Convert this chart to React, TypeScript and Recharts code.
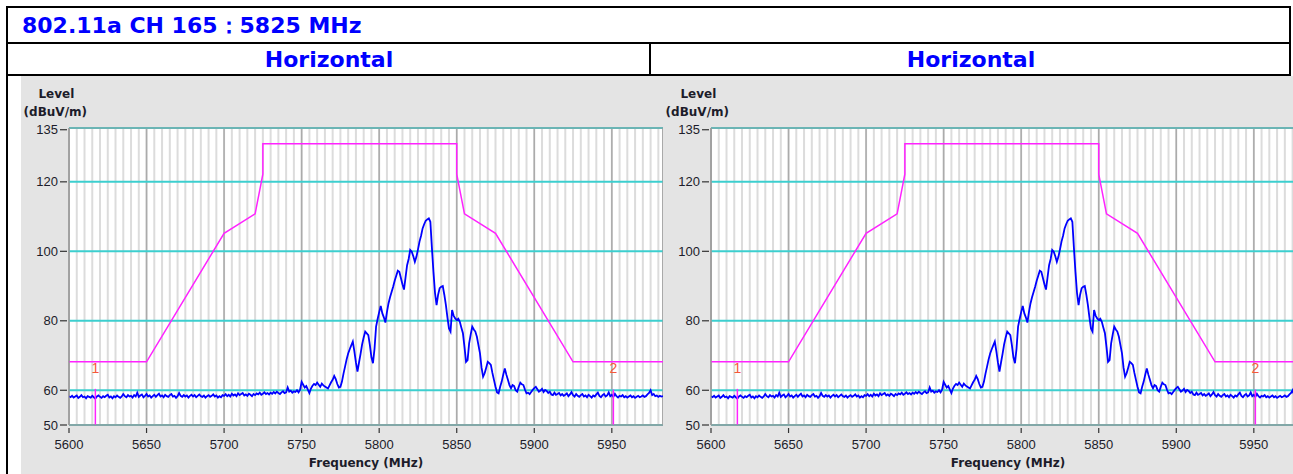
import React from 'react';
import {
  LineChart,
  Line,
  XAxis,
  YAxis,
  CartesianGrid,
  ReferenceLine,
  ReferenceDot,
  ReferenceArea,
} from 'recharts';

// ---------- texts ----------
const titleText = '802.11a CH 165\uFF1A5825 MHz';
const panelTitles = ['Horizontal', 'Horizontal'];
const yAxisTitleLines = ['Level', '(dBuV/m)'];
const xAxisTitle = 'Frequency (MHz)';

// ---------- axes ----------
const xTicks = [5600, 5650, 5700, 5750, 5800, 5850, 5900, 5950];
const yTicks = [50, 60, 80, 100, 120, 135];
const limitGridLevels = [60, 80, 100, 120];
const majorGridFreqs = [5650, 5700, 5750, 5800, 5850, 5900, 5950];
const xMin = 5600;
const xMax = 5983;
const yMin = 50;
const yMax = 135.5;
const minorGridStep = 5;

// ---------- limit mask ----------
const maskFreqs = [5600, 5650, 5700, 5720, 5725, 5725, 5850, 5850, 5855, 5875, 5925, 5983];
const maskLevels = [68.2, 68.2, 105.2, 110.8, 122.2, 131, 131, 122.2, 110.8, 105.2, 68.2, 68.2];

// ---------- markers ----------
const markerFreqs = [5617, 5951];
const markerNames = ['1', '2'];
const markerTopLevels = [60.4, 60.2];
const markerLabelLevels = [66.4, 66.4];

// ---------- measured trace (1 MHz steps from 5600 MHz) ----------
const traceStartMHz = 5600;
const traceStepMHz = 1;
const traceLevels = [
  58.3, 58.0, 58.4, 57.9, 58.2, 58.5, 57.8, 58.1, 58.6, 58.0,
  58.2, 57.7, 58.3, 58.1, 57.9, 58.4, 58.0, 57.6, 58.2, 58.5,
  58.1, 57.8, 58.3, 58.0, 58.4, 58.7, 57.9, 58.2, 57.7, 58.3,
  58.0, 58.5, 58.1, 57.8, 58.2, 58.9, 58.3, 58.0, 58.6, 58.2,
  58.4, 57.9, 58.6, 58.2, 59.3, 58.1, 58.5, 58.8, 58.0, 58.4,
  58.9, 58.2, 58.5, 57.9, 58.3, 58.7, 58.1, 58.6, 59.0, 58.2,
  58.5, 58.0, 58.7, 58.3, 58.1, 58.6, 58.9, 58.2, 58.4, 57.8,
  58.3, 59.2, 58.4, 58.1, 58.6, 58.2, 58.5, 57.9, 58.4, 58.7,
  58.2, 58.6, 58.0, 58.4, 58.8, 58.3, 58.1, 58.5, 57.9, 58.3,
  58.6, 58.1, 58.4, 58.8, 58.2, 58.5, 57.9, 58.3, 58.0, 58.6,
  58.4, 58.9, 58.3, 58.7, 58.2, 59.0, 58.5, 58.8, 58.3, 59.1,
  58.6, 58.9, 59.2, 58.5, 58.8, 58.4, 59.0, 58.7, 58.3, 58.9,
  58.6, 59.1, 58.8, 59.3, 58.7, 59.0, 59.4, 58.9, 59.2, 58.8,
  59.3, 59.0, 59.5, 59.1, 59.6, 59.2, 58.9, 59.4, 59.7, 59.2,
  59.4, 60.8, 59.6, 59.9, 59.3, 59.7, 59.5, 60.0, 59.4, 60.2,
  62.4, 61.6, 60.8, 61.2, 60.2, 59.2, 60.5, 61.3, 61.8, 61.5,
  62.2, 61.6, 61.0, 61.9, 61.4, 61.1, 60.8, 60.5, 61.4, 62.3,
  63.0, 64.1, 63.2, 61.8, 60.8, 61.0, 62.5, 64.8, 66.8, 68.9,
  70.6, 71.8, 72.9, 74.0, 71.2, 68.0, 65.4, 68.0, 70.5, 73.2,
  75.2, 76.9, 76.4, 75.9, 73.0, 69.5, 67.8, 72.0, 78.3, 80.5,
  82.5, 84.3, 82.2, 81.0, 79.5, 82.5, 85.0, 86.8, 88.3, 89.8,
  91.5, 93.0, 94.4, 94.1, 92.3, 90.5, 89.0, 92.5, 96.0, 97.8,
  100.4, 99.9, 98.6, 97.0, 98.4, 100.5, 102.8, 104.5, 106.6, 107.8,
  108.8, 109.2, 109.5, 108.5, 101.0, 94.0, 88.0, 84.5, 87.5, 89.4,
  89.8, 90.0, 87.5, 84.6, 81.0, 77.8, 76.9, 83.1, 81.5, 80.7,
  80.2, 80.6, 79.7, 78.0, 76.4, 72.5, 68.2, 68.7, 73.5, 76.0,
  78.3, 77.5, 76.9, 75.4, 73.0, 70.6, 66.5, 63.9, 64.9, 66.5,
  68.2, 67.8, 67.3, 65.0, 63.0, 61.0, 59.4, 59.1, 61.0, 62.5,
  64.5, 66.3, 64.5, 63.0, 61.5, 60.6, 61.5, 61.2, 60.0, 59.6,
  61.0, 62.2, 61.7, 61.5, 60.2, 59.1, 59.3, 58.9, 59.5, 60.1,
  60.6, 61.0, 60.3, 59.6, 59.9, 60.4, 59.5, 60.1, 59.8, 59.2,
  59.6, 58.8, 58.6, 59.3, 58.7, 58.9, 59.2, 58.5, 58.9, 58.4,
  58.7, 59.1, 58.3, 58.8, 59.5, 58.6, 58.2, 58.9, 58.4, 58.1,
  58.6, 58.9, 58.2, 58.5, 58.0, 58.7, 58.3, 57.9, 58.5, 58.2,
  58.8, 59.3, 58.4, 58.0, 58.6, 58.9, 58.2, 58.5, 59.4, 58.3,
  58.7, 58.1, 59.0, 58.3, 57.9, 58.4, 58.2, 58.6, 58.0, 58.3,
  57.9, 58.2, 58.5, 58.0, 58.3, 57.8, 58.1, 58.4, 58.0, 58.2,
  58.5, 58.1, 58.3, 58.8, 59.2, 60.0, 58.6, 58.9, 58.3, 58.5,
  58.1, 58.4, 58.2, 58.3,
];

// ---------- derived tables ----------
const traceData = traceLevels.map((v, i) => ({ f: traceStartMHz + i * traceStepMHz, v }));
const maskData = maskFreqs.map((f, i) => ({ f, v: maskLevels[i] }));
const minorGridFreqs: number[] = [];
for (let f = xMin + minorGridStep; f < xMax; f += minorGridStep) minorGridFreqs.push(f);

// ---------- styles ----------
const BOLD_FONT = "'DejaVu Sans', Verdana, sans-serif";
const TICK_FONT = "'Liberation Sans', Arial, sans-serif";
const TEXT_DARK = '#1c1c2a';
const GRAY_BG = '#e4e4e4';
const BORDER_GRAY = '#9a9a9a';
const TRACE_BLUE = '#0000ff';
const MASK_MAGENTA = '#ff22ff';
const LIMIT_CYAN = '#3ccfcf';
const MARKER_RED = '#f5583a';

const CHART_W = 642;
const CHART_H = 398;
const CHART_TOP = 76;
const PANEL_LEFTS = [21, 663];

const XTick = (props: any) => {
  const { x, y, payload } = props;
  return (
    <g>
      <line x1={x} x2={x} y1={y + 3} y2={y + 8} stroke="#333" strokeWidth={1.2} />
      <text x={x} y={y + 24} textAnchor="middle" fontSize={13} fontFamily={TICK_FONT} fill={TEXT_DARK}>
        {payload.value}
      </text>
    </g>
  );
};

const YTick = (props: any) => {
  const { x, y, payload } = props;
  return (
    <g>
      <line x1={x - 9} x2={x - 2} y1={y} y2={y} stroke="#333" strokeWidth={1.2} />
      <text x={x - 11} y={y + 4.6} textAnchor="end" fontSize={13} fontFamily={TICK_FONT} fill={TEXT_DARK}>
        {payload.value}
      </text>
    </g>
  );
};

function Panel({ left }: { left: number }) {
  return (
    <div style={{ position: 'absolute', left, top: CHART_TOP }}>
      <LineChart width={CHART_W} height={CHART_H} margin={{ top: 52, right: 0, bottom: 19, left: 0 }}>
        <XAxis xAxisId="minor" type="number" dataKey="f" domain={[xMin, xMax]} ticks={minorGridFreqs} interval={0} hide allowDataOverflow />
        <XAxis xAxisId="major" type="number" dataKey="f" domain={[xMin, xMax]} ticks={majorGridFreqs} interval={0} hide allowDataOverflow />
        <YAxis yAxisId="limit" type="number" domain={[yMin, yMax]} ticks={limitGridLevels} interval={0} hide allowDataOverflow />
        <CartesianGrid xAxisId="minor" horizontal={false} stroke="#dcdcdc" strokeWidth={2} fill="#ffffff" fillOpacity={1} />
        <CartesianGrid xAxisId="major" horizontal={false} stroke="#ababab" strokeWidth={1.5} />
        <CartesianGrid yAxisId="limit" vertical={false} stroke={LIMIT_CYAN} strokeWidth={2} />
        <XAxis
          type="number"
          dataKey="f"
          domain={[xMin, xMax]}
          ticks={xTicks}
          interval={0}
          height={30}
          tickSize={0}
          tickMargin={0}
          tickLine={false}
          tick={<XTick />}
          axisLine={{ stroke: BORDER_GRAY }}
          allowDataOverflow
        />
        <YAxis
          type="number"
          domain={[yMin, yMax]}
          ticks={yTicks}
          interval={0}
          width={48}
          tickSize={0}
          tickMargin={0}
          tickLine={false}
          tick={<YTick />}
          axisLine={{ stroke: BORDER_GRAY }}
          allowDataOverflow
        />
        <ReferenceArea x1={xMin} x2={xMax} y1={yMin} y2={yMax} fill="none" stroke={BORDER_GRAY} strokeWidth={1} />
        <Line
          data={traceData}
          dataKey="v"
          type="linear"
          stroke={TRACE_BLUE}
          strokeWidth={1.8}
          dot={false}
          activeDot={false}
          isAnimationActive={false}
        />
        <Line
          data={maskData}
          dataKey="v"
          type="linear"
          stroke={MASK_MAGENTA}
          strokeWidth={1.5}
          dot={false}
          activeDot={false}
          isAnimationActive={false}
        />
        {markerFreqs.map((f, i) => (
          <ReferenceLine
            key={'ml' + i}
            segment={[
              { x: f, y: yMin },
              { x: f, y: markerTopLevels[i] },
            ]}
            stroke={MASK_MAGENTA}
            strokeWidth={1.5}
          />
        ))}
        {markerFreqs.map((f, i) => (
          <ReferenceDot
            key={'md' + i}
            x={f}
            y={markerLabelLevels[i]}
            r={0}
            fill="none"
            stroke="none"
            label={{ value: markerNames[i], position: 'center', fill: MARKER_RED, fontSize: 14, fontFamily: TICK_FONT }}
          />
        ))}
      </LineChart>
    </div>
  );
}

export default function App() {
  return (
    <div
      style={{
        position: 'absolute',
        left: 0,
        top: 0,
        width: 1293,
        height: 474,
        overflow: 'hidden',
        background: '#ffffff',
      }}
    >
      <svg width={1293} height={474} style={{ position: 'absolute', left: 0, top: 0 }}>
        <rect x={0} y={0} width={1293} height={474} fill="#ffffff" />
        <rect x={21} y={76} width={1272} height={398} fill={GRAY_BG} />
        {/* table borders */}
        <rect x={6} y={6} width={1285} height={2} fill="#000" />
        <rect x={6} y={6} width={2} height={468} fill="#000" />
        <rect x={1289} y={6} width={2} height={70} fill="#000" />
        <rect x={6} y={42} width={1285} height={2} fill="#000" />
        <rect x={6} y={74} width={1285} height={2} fill="#000" />
        <rect x={649} y={42} width={2} height={34} fill="#000" />
        <text x={22} y={33} fontFamily={BOLD_FONT} fontWeight="bold" fontSize={22} fill="#0000ff">
          {titleText}
        </text>
        <text x={329} y={67} textAnchor="middle" fontFamily={BOLD_FONT} fontWeight="bold" fontSize={22} fill="#0000ff">
          {panelTitles[0]}
        </text>
        <text x={971} y={67} textAnchor="middle" fontFamily={BOLD_FONT} fontWeight="bold" fontSize={22} fill="#0000ff">
          {panelTitles[1]}
        </text>
        {PANEL_LEFTS.map((pl, i) => (
          <g key={'lbl' + i}>
            <text x={pl + 35.4} y={98} textAnchor="middle" fontFamily={BOLD_FONT} fontWeight="bold" fontSize={12} fill={TEXT_DARK}>
              {yAxisTitleLines[0]}
            </text>
            <text x={pl + 34.3} y={115.5} textAnchor="middle" fontFamily={BOLD_FONT} fontWeight="bold" fontSize={12} fill={TEXT_DARK}>
              {yAxisTitleLines[1]}
            </text>
            <text x={pl + 345} y={467} textAnchor="middle" fontFamily={BOLD_FONT} fontWeight="bold" fontSize={12} fill={TEXT_DARK}>
              {xAxisTitle}
            </text>
          </g>
        ))}
      </svg>
      {PANEL_LEFTS.map((pl, i) => (
        <Panel key={'p' + i} left={pl} />
      ))}
    </div>
  );
}
